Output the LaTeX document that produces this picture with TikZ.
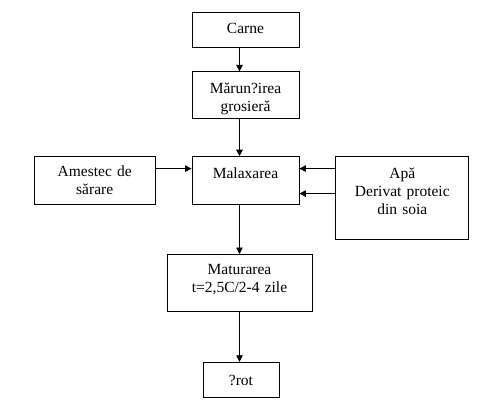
\documentclass[tikz,border=0pt]{standalone}
\usepackage{fontspec}
\setmainfont{Liberation Serif}
\usetikzlibrary{positioning,arrows.meta}
\tikzstyle{stage} = [rectangle, draw, line width=0.8pt, inner xsep=0pt, inner ysep=0pt, align=center, font=\fontsize{15.5}{18}\selectfont]
\tikzstyle{flow} = [-{Triangle[length=6.5pt,width=6.5pt]}, line width=0.8pt]

\begin{document}
\begin{tikzpicture}[node distance=24pt]
\useasboundingbox (0,0) rectangle (480pt,-408pt);

% Top: raw material
\node[stage, text width=107pt, text height=21pt, text depth=14pt] (carne) at (245.5pt,-29.5pt) {Carne};

% Coarse mincing
\node[stage, text width=107pt, text height=22pt, text depth=25pt, below=24pt of carne] (marun) {Mărun?irea\\grosieră};

% Central: mixing
\node[stage, text width=107pt, text height=22pt, text depth=26pt, below=37pt of marun] (malax) {Malaxarea};

% Left: salting mix
\node[stage, text width=121pt, text height=20pt, text depth=28pt, left=36pt of malax] (amestec) {Amestec de\\sărare};

% Right: water and soy
\node[stage, text width=133pt, text height=22pt, text depth=61pt, right=36pt of malax.north east, anchor=north west] (apa) {Apă\\Derivat proteic\\din soia};

% Below: maturing
\node[stage, text width=145pt, text height=20pt, text depth=37pt, below=49pt of malax, xshift=-6pt] (matur) {Maturarea\\t=2,5C/2-4 zile};

% Bottom: product
\node[stage, text width=76pt, text height=23pt, text depth=12pt, below=50pt of matur, xshift=1.5pt] (rot) {?rot};

% Arrows
\draw[flow] (carne.south -| matur.north) -- (marun.north -| matur.north);
\draw[flow] (marun.south -| matur.north) -- (malax.north -| matur.north);
\draw[flow] (malax.south -| matur.north) -- (matur.north);
\draw[flow] (matur.south) -- (rot.north -| matur.south);

\coordinate (salt) at ([yshift=12pt]amestec.east);
\draw[flow] (salt) -- (salt -| malax.west);
\coordinate (water) at ([yshift=12pt]malax.east);
\coordinate (soy) at ([yshift=-13pt]malax.east);
\draw[flow] (water -| apa.west) -- (water);
\draw[flow] (soy -| apa.west) -- (soy);

\end{tikzpicture}
\end{document}
